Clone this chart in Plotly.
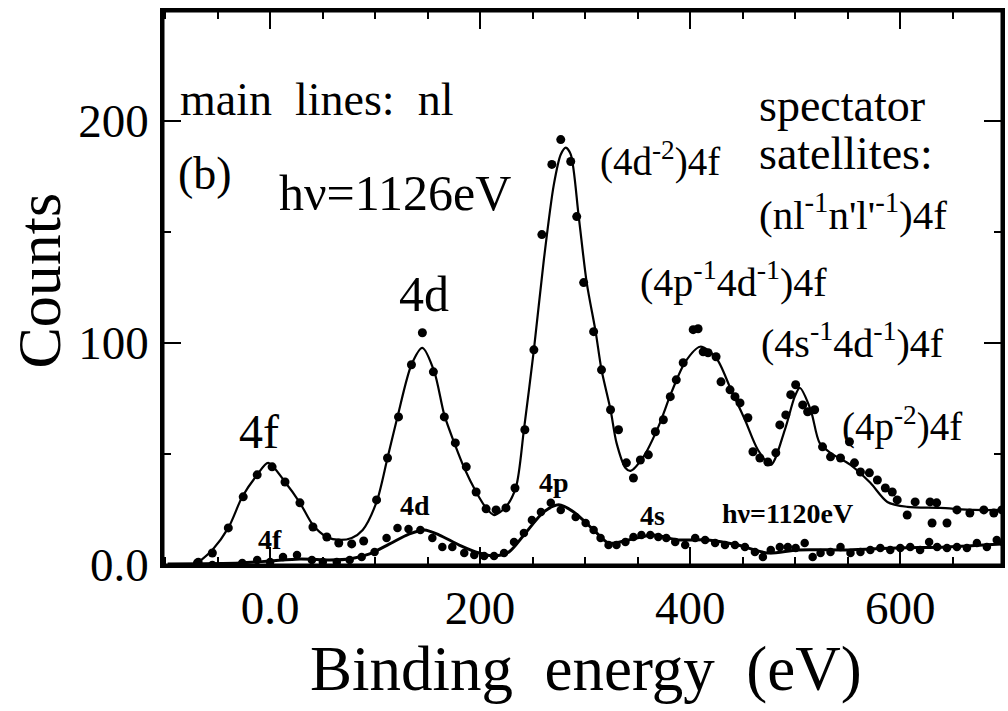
import plotly.graph_objects as go

# ---------------- data ----------------
# h nu = 1126 eV : measured points
e1126_pts = [-69.2, -55.0, -39.8, -25.6, -12.3, 1.9, 14.2, 28.4, 40.8, 54.0, 65.4, 77.7, 89.1,
             101.4, 111.8, 122.3, 134.6, 145.0, 155.5, 165.9, 176.4, 186.8, 196.2, 205.7, 215.2,
             224.6, 233.2, 242.6, 251.2, 258.8, 268.3, 276.8, 286.3, 292.0, 298.6, 308.1, 315.6,
             324.2, 331.8, 339.3, 346.0, 352.6, 360.2, 366.9, 374.5, 381.1, 386.8, 393.4, 402.9,
             407.6, 412.4, 417.1, 424.7, 429.4, 438.0, 442.7, 447.5, 455.0, 459.8, 466.4, 474.0,
             481.6, 485.4, 491.1, 495.8, 500.5, 507.2, 511.9, 518.6, 526.1, 533.7, 543.2, 551.7,
             556.5, 562.2, 570.7, 578.3, 585.9, 592.5, 597.2, 606.7, 614.3, 628.5, 634.8, 630.4,
             644.6, 654.1, 666.4, 679.7, 689.2, 696.8]
c1126_pts = [0.9, 5.4, 16.7, 30.7, 40.6, 44.2, 37.4, 28.0, 17.1, 12.6, 9.9, 9.5, 10.8,
             29.3, 48.2, 66.7, 90.2, 104.6, 87.0, 66.7, 55.0, 44.2, 32.9, 25.3, 24.8,
             25.7, 34.7, 60.9, 96.9, 148.8, 180.4, 191.6, 181.7, 156.9, 127.2, 105.1, 87.9,
             69.9, 60.9, 46.0, 39.2, 47.3, 49.6, 60.0, 65.4, 75.8, 83.4, 91.1, 106.0,
             106.4, 96.0, 95.6, 93.8, 82.5, 78.9, 75.8, 73.0, 66.3, 51.0, 48.2, 46.4,
             50.5, 63.1, 67.6, 76.7, 81.2, 72.1, 69.0, 69.9, 53.2, 48.7, 48.2, 55.5,
             46.0, 41.9, 41.5, 38.3, 34.7, 32.9, 29.3, 22.5, 28.4, 28.4, 28.0, 18.9,
             18.9, 24.8, 23.4, 24.8, 23.4, 24.8]

# h nu = 1126 eV : fitted curve
e1126_fit = [-69.2, -55.0, -39.8, -26.5, -12.3, -1.9, 14.2, 28.4, 40.8, 54.0, 66.4, 77.7, 88.2,
             101.4, 111.8, 121.3, 134.6, 145.0, 156.4, 165.9, 175.4, 184.9, 196.2, 205.7, 213.3,
             224.6, 234.2, 241.7, 251.2, 260.7, 270.2, 276.8, 281.6, 286.3, 293.9, 301.5, 310.0,
             315.6, 324.2, 329.9, 338.5, 343.2, 355.5, 369.7, 382.1, 395.4, 409.6, 424.7, 439.0,
             452.2, 464.5, 476.9, 490.2, 499.6, 504.4, 514.8, 523.3, 533.7, 552.7, 571.6, 587.8,
             606.7, 638.0, 670.2, 698.7]
c1126_fit = [0.9, 6.8, 16.7, 30.7, 40.6, 46.0, 37.4, 28.0, 18.0, 12.6, 11.3, 12.2, 15.8,
             28.4, 48.2, 66.7, 90.2, 97.8, 87.0, 67.6, 55.0, 43.7, 32.9, 25.7, 22.5,
             26.2, 35.2, 60.9, 96.9, 137.5, 171.3, 184.9, 188.0, 184.9, 156.9, 127.2, 105.1,
             87.9, 69.9, 55.0, 43.7, 42.4, 48.7, 62.2, 77.6, 91.5, 98.3, 93.3, 78.9,
             65.4, 51.9, 45.1, 60.9, 75.8, 79.8, 69.9, 55.0, 50.5, 45.1, 37.0, 28.4,
             26.2, 25.7, 24.8, 24.8]

# h nu = 1120 eV : measured points
e1120_pts = [-68.3, -55.0, -26.5, -12.3, 0.0, 12.3, 25.6, 39.8, 50.2, 63.5, 75.8, 87.2, 99.5,
             110.9, 121.3, 131.8, 143.1, 154.5, 164.0, 173.5, 184.9, 194.4, 203.8, 213.3, 222.8,
             232.3, 241.7, 249.3, 257.9, 267.3, 276.8, 291.0, 300.5, 308.1, 314.7, 322.3, 329.9,
             338.4, 346.0, 353.6, 362.1, 369.7, 377.3, 385.8, 395.3, 404.8, 414.3, 423.8, 433.2,
             442.7, 452.2, 461.7, 469.3, 476.8, 485.4, 493.0, 500.5, 509.1, 516.7, 524.2, 533.7,
             543.2, 552.7, 562.2, 571.6, 581.1, 590.6, 600.1, 609.6, 619.0, 627.6, 635.2, 644.6,
             654.1, 663.6, 673.1, 682.6, 692.0, 698.7]
c1120_pts = [1.4, 0.0, 0.9, 2.3, 1.4, 3.6, 4.5, 2.3, 1.4, 1.4, 2.3, 3.6, 5.9,
             12.2, 16.7, 16.2, 15.8, 12.2, 8.1, 8.1, 5.4, 4.5, 4.1, 4.1, 5.4,
             10.4, 14.4, 20.3, 23.9, 28.0, 24.8, 21.6, 18.9, 15.8, 12.2, 9.0, 9.0,
             10.4, 12.6, 13.5, 13.5, 12.6, 12.2, 10.4, 9.0, 12.2, 11.3, 9.9, 9.0,
             9.0, 8.1, 5.9, 3.6, 6.8, 8.1, 8.1, 7.7, 9.9, 3.6, 5.4, 5.9,
             8.1, 5.4, 5.9, 6.8, 7.7, 6.8, 7.7, 8.1, 6.8, 10.4, 8.1, 7.7,
             8.1, 7.7, 9.9, 8.1, 11.3, 9.9]

# h nu = 1120 eV : fitted curve
e1120_fit = [-97.6, -28.4, 0.0, 28.4, 56.9, 75.8, 94.8, 113.8, 132.7, 146.9, 161.2, 180.1, 199.1,
             213.3, 227.5, 241.7, 260.7, 274.9, 289.1, 308.1, 322.3, 341.3, 365.0, 388.7, 417.1,
             445.6, 474.0, 502.4, 549.8, 597.2, 644.6, 698.7]
c1120_fit = [0.5, 0.9, 1.8, 2.7, 2.3, 2.7, 5.0, 9.5, 14.0, 15.8, 13.5, 9.0, 5.4,
             4.1, 5.9, 13.5, 23.9, 27.1, 23.9, 15.8, 9.9, 11.3, 13.5, 11.3, 11.3,
             9.0, 5.4, 6.8, 6.8, 7.7, 8.1, 9.5]

x_tickvals = [0, 200, 400, 600]
x_ticktext = ["0.0", "200", "400", "600"]
y_tickvals = [0, 100, 200]
y_ticktext = ["0.0", "100", "200"]

FONT = "Liberation Serif"
NB = "\u00a0"

fig = go.Figure()
fig.add_trace(go.Scatter(x=e1126_fit, y=c1126_fit, mode="lines",
                         line=dict(color="black", width=2.2, shape="spline", smoothing=0.8),
                         hoverinfo="skip", showlegend=False))
fig.add_trace(go.Scatter(x=e1126_pts, y=c1126_pts, mode="markers",
                         marker=dict(color="black", size=9), showlegend=False))
fig.add_trace(go.Scatter(x=e1120_fit, y=c1120_fit, mode="lines",
                         line=dict(color="black", width=3, shape="spline", smoothing=0.8),
                         hoverinfo="skip", showlegend=False))
fig.add_trace(go.Scatter(x=e1120_pts, y=c1120_pts, mode="markers",
                         marker=dict(color="black", size=8.5), showlegend=False))

def ann(x, y, text, size, xanchor="left", bold=False):
    if bold:
        text = "<b>" + text + "</b>"
    fig.add_annotation(x=x, y=y, xref="x", yref="y", text=text, showarrow=False,
                       xanchor=xanchor, yanchor="middle",
                       font=dict(family=FONT, size=size, color="black"))

ann(-87.5, 209.5, "main" + NB + NB + "lines:" + NB + NB + "nl", 46)
ann(-90.0, 176.5, "(b)", 46)
ann(7.0, 167.5, "hν=1126eV", 50)
ann(147.0, 122.0, "4d", 50, xanchor="center")
ann(-10.5, 60.0, "4f", 48, xanchor="center")
ann(312.0, 182.5, "(4d<sup>-2</sup>)4f", 39)
ann(464.0, 207.0, "spectator", 46)
ann(464.0, 185.5, "satellites:", 46)
ann(464.0, 159.0, "(nl<sup>-1</sup>n'l'<sup>-1</sup>)4f", 41)
ann(350.5, 128.5, "(4p<sup>-1</sup>4d<sup>-1</sup>)4f", 40)
ann(466.0, 101.0, "(4s<sup>-1</sup>4d<sup>-1</sup>)4f", 40)
ann(543.0, 63.5, "(4p<sup>-2</sup>)4f", 39)
ann(0.0, 11.7, "4f", 28, xanchor="center", bold=True)
ann(138.4, 26.6, "4d", 28, xanchor="center", bold=True)
ann(270.2, 37.0, "4p", 28, xanchor="center", bold=True)
ann(364.0, 22.1, "4s", 28, xanchor="center", bold=True)
ann(428.5, 23.4, "hν=1120eV", 28, bold=True)

# axis titles, placed in pixels relative to the plotting area
fig.add_annotation(x=0.504, y=0, xref="paper", yref="paper", yshift=-104,
                   text="Binding" + NB + NB + "energy" + NB + NB + "(eV)", showarrow=False,
                   xanchor="center", yanchor="middle",
                   font=dict(family=FONT, size=63, color="black"))
fig.add_annotation(x=0, y=0.5135, xref="paper", yref="paper", xshift=-124,
                   text="Counts", textangle=-90, showarrow=False,
                   xanchor="center", yanchor="middle",
                   font=dict(family=FONT, size=62, color="black"))

axis_common = dict(showline=True, linecolor="black", linewidth=2.5, mirror="allticks",
                   ticks="inside", ticklen=18, tickwidth=2, tickcolor="black",
                   showgrid=False, zeroline=False,
                   tickfont=dict(family=FONT, size=47, color="black"),
                   minor=dict(ticks="inside", ticklen=8, tickwidth=2, tickcolor="black",
                              dtick=50, showgrid=False))

fig.update_xaxes(range=[-102, 697], tickmode="array", tickvals=x_tickvals, ticktext=x_ticktext,
                 **axis_common)
fig.update_yaxes(range=[0, 249.5], tickmode="array", tickvals=y_tickvals, ticktext=y_ticktext,
                 ticklabelstandoff=2, **axis_common)

# frame around the plotting area
fig.add_shape(type="rect", xref="paper", yref="paper", x0=0, y0=0, x1=1, y1=1,
              line=dict(color="black", width=3), layer="above")

fig.update_layout(width=1008, height=711, margin=dict(l=163, r=3, t=11, b=146),
                  plot_bgcolor="white", paper_bgcolor="white")

# remove the page's default body margin so the figure fills the window exactly
fig.write_html("out.html", config={"displayModeBar": False},
               post_script="document.body.style.margin='0px';document.body.style.overflow='hidden';")
